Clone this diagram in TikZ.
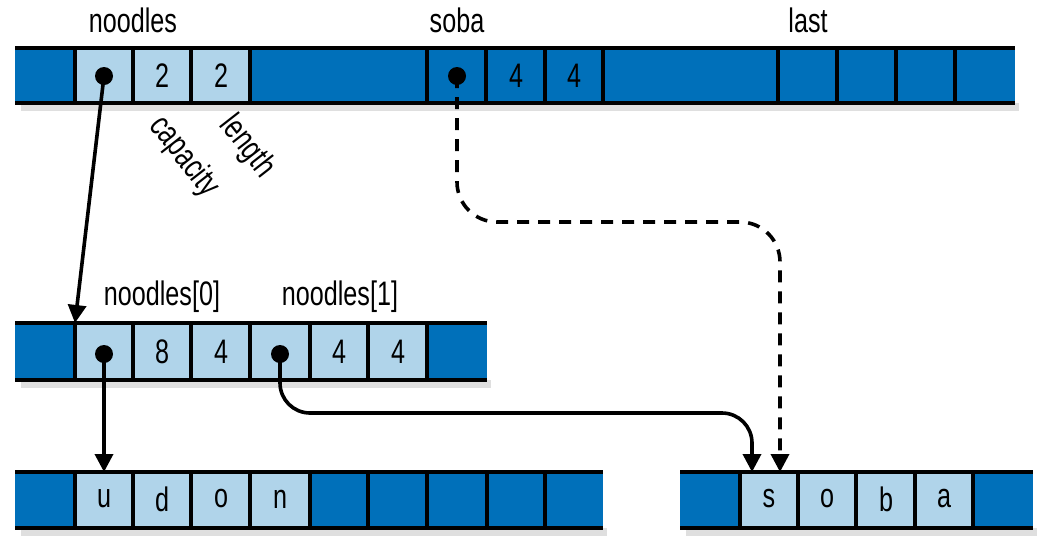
\documentclass[tikz,border=0pt]{standalone}
\usepackage{fontspec}
\setmainfont{Liberation Sans}[FakeStretch=0.74]
\usetikzlibrary{arrows.meta}
\definecolor{dk}{HTML}{0070BA}
\definecolor{lt}{HTML}{B0D4EA}
\begin{document}
\begin{tikzpicture}[x=1pt,y=-1pt,
  lbl/.style={font=\fontsize{34}{36}\selectfont,text=black,inner sep=1pt},
  dot/.style={circle,fill=black,inner sep=0pt,minimum size=18pt},
  ptr/.style={line width=3.6pt,-{Triangle[length=18pt,width=18pt]}},
  cell/.style={line width=4pt}]
\useasboundingbox (0,0) rectangle (1062,558);
\newcommand{\mybar}[6]{%
  \fill[gray!25] (#3+6,#2) rectangle (#4+4,#2+8);
  \fill[dk] (#3,#1) rectangle (#4,#2);
  \fill[lt] (#5,#1) rectangle (#6,#2);
  \draw[cell] (#3,#1) -- (#4,#1) (#3,#2) -- (#4,#2);}
\mybar{48}{103}{15}{1015}{75}{250}
\foreach \x in {75,133,191,250,427,486,545,603,778,837,896,955}
  \draw[cell] (\x,48) -- (\x,103);
\mybar{323}{380}{15}{487}{75}{427}
\foreach \x in {75,133,191,250,310,368,427}
  \draw[cell] (\x,323) -- (\x,380);
\mybar{472}{528}{15}{603}{75}{310}
\foreach \x in {75,133,191,250,310,368,427,487,545}
  \draw[cell] (\x,472) -- (\x,528);
\mybar{472}{528}{680}{1033}{740}{973}
\foreach \x in {740,798,856,915,973}
  \draw[cell] (\x,472) -- (\x,528);
% texts
\node[lbl] (t1) at (133,20) {noodles};
\node[lbl] (t2) at (457,20) {soba};
\node[lbl] (t3) at (808,20) {last};
\node[lbl] (c1) at (162,76) {2};
\node[lbl] (c2) at (221,76) {2};
\node[lbl] (c3) at (516,76) {4};
\node[lbl] (c4) at (574,76) {4};
\node[lbl,rotate=-52] (cap) at (184,157) {capacity};
\node[lbl,rotate=-52] (len) at (247,147) {length};
\node[lbl] (n0) at (162,297) {noodles[0]};
\node[lbl] (n1) at (340,297) {noodles[1]};
\node[lbl] (m1) at (162,352) {8};
\node[lbl] (m2) at (221,352) {4};
\node[lbl] (m3) at (339,352) {4};
\node[lbl] (m4) at (398,352) {4};
\foreach \x/\t [count=\i] in {104/u,162/d,221/o,280/n}
  \node[lbl] (u\i) at (\x,499) {\t};
\foreach \x/\t [count=\i] in {769/s,827/o,886/b,944/a}
  \node[lbl] (s\i) at (\x,499) {\t};
% dots
\node[dot] (d1) at (104,76) {};
\node[dot] (d2) at (457,76) {};
\node[dot] (d3) at (104,354) {};
\node[dot] (d4) at (280,354) {};
\coordinate (e1) at (75,323);
\coordinate (e3) at (104,472);
\coordinate (e4) at (752,472);
\coordinate (e2) at (780,472);
\draw[ptr] (d1.center) -- (e1);
\draw[ptr] (d3.center) -- (e3);
\draw[ptr,rounded corners=30pt] (d4.center) -- (280,413) -- (752,413) -- (e4);
\draw[ptr,dash pattern=on 12pt off 9pt,rounded corners=40pt] (d2.center) -- (457,222) -- (780,222) -- (e2);
\end{tikzpicture}
\end{document}
